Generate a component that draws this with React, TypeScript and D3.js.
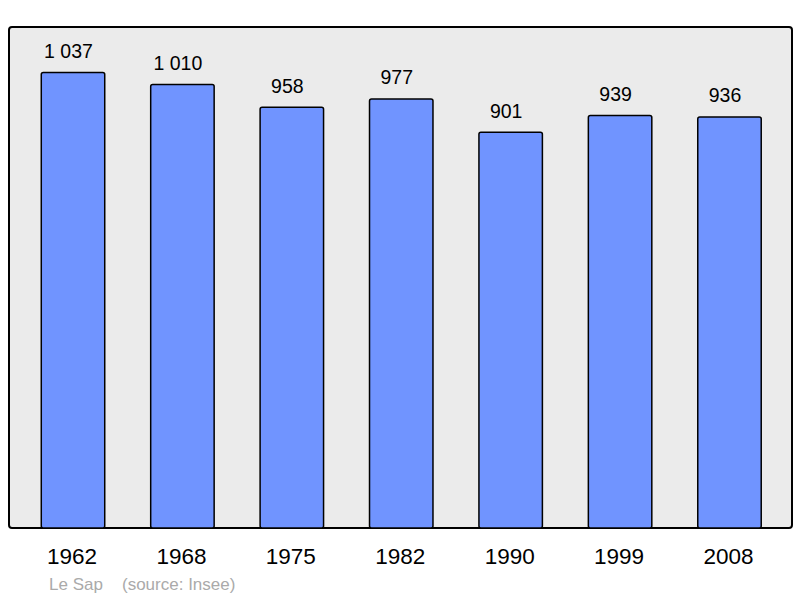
import React from "react";
import * as d3 from "d3";

const years = ["1962", "1968", "1975", "1982", "1990", "1999", "2008"];
const population = [1037, 1010, 958, 977, 901, 939, 936];
const valueLabels = ["1 037", "1 010", "958", "977", "901", "939", "936"];
const townLabel = "Le Sap";
const sourceLabel = "(source: Insee)";

export default function App() {
  const W = 800, H = 598;
  const panel = { x: 9, y: 27, w: 783, h: 501 };
  const x = d3.scaleBand().domain(years).range([18.3, 784.2]).paddingInner(0.42).paddingOuter(0.21);
  const y = d3.scaleLinear().domain([0, d3.max(population)! * 1.1]).range([panel.y + panel.h, panel.y]);
  const font = "'Liberation Sans', Arial, sans-serif";
  return (
    <svg width={W} height={H} style={{ position: "absolute", left: 0, top: 0 }}>
      <rect x={0} y={0} width={W} height={H} fill="#fff" />
      <rect x={panel.x} y={panel.y} width={panel.w} height={panel.h} rx={3} fill="#ebebeb" stroke="#000" strokeWidth={2} />
      {years.map((yr, i) => {
        const bx = x(yr)!;
        const by = y(population[i]);
        const cx = bx + x.bandwidth() / 2;
        return (
          <g key={yr}>
            <rect x={bx} y={by} width={x.bandwidth()} height={y(0) - by} rx={2} fill="#7094ff" stroke="#000" strokeWidth={1.5} />
            <text x={cx - 4.5} y={by - 14.5} textAnchor="middle" fontFamily={font} fontSize={19.5} fill="#000">{valueLabels[i]}</text>
            <text x={cx - 1} y={564} textAnchor="middle" fontFamily={font} fontSize={22.5} fill="#000">{yr}</text>
          </g>
        );
      })}
      <text x={49} y={590} fontFamily={font} fontSize={17} fill="#aaa">{townLabel}</text>
      <text x={122} y={590} fontFamily={font} fontSize={17} fill="#aaa">{sourceLabel}</text>
    </svg>
  );
}
